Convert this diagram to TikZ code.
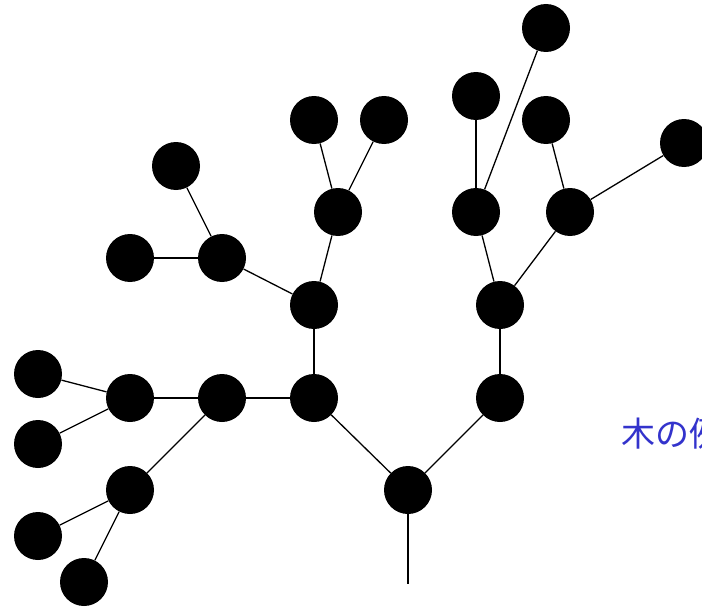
\documentclass[tikz,border=0pt]{standalone}
\usepackage{fontspec}
\newfontfamily\cjk{Noto Sans CJK JP}
\begin{document}
\begin{tikzpicture}[x=1pt,y=-1pt,
  dot/.style={circle,fill=black,minimum size=48pt,inner sep=0pt},
  edge/.style={line width=1.3pt}]
\useasboundingbox (0,0) rectangle (702,610);
\node[dot] (r) at (408,490) {};
\coordinate (base) at (408,584);
\node[dot] (a) at (314,398) {};
\node[dot] (b) at (314,305) {};
\node[dot] (c) at (338,212) {};
\node[dot] (c1) at (314,120) {};
\node[dot] (c2) at (384,120) {};
\node[dot] (d) at (222,258) {};
\node[dot] (d1) at (130,258) {};
\node[dot] (d2) at (176,166) {};
\node[dot] (e) at (222,398) {};
\node[dot] (f) at (130,398) {};
\node[dot] (f1) at (38,374) {};
\node[dot] (f2) at (38,444) {};
\node[dot] (g) at (130,490) {};
\node[dot] (g1) at (38,536) {};
\node[dot] (g2) at (84,582) {};
\node[dot] (h) at (500,398) {};
\node[dot] (i) at (500,305) {};
\node[dot] (j) at (476,212) {};
\node[dot] (j1) at (476,96) {};
\node[dot] (j2) at (546,28) {};
\node[dot] (k) at (570,212) {};
\node[dot] (k1) at (546,120) {};
\node[dot] (k2) at (684,143) {};
\draw[edge] (r) -- (base);
\foreach \u/\v in {r/a,a/b,b/c,c/c1,c/c2,b/d,d/d1,d/d2,a/e,e/f,f/f1,f/f2,e/g,g/g1,g/g2,r/h,h/i,i/j,j/j1,j/j2,i/k,k/k1,k/k2}
  \draw[edge] (\u) -- (\v);
\node[anchor=west,inner sep=0pt,text=blue!75!black!80!white] (t) at (621,434) {\cjk\fontsize{34pt}{34pt}\selectfont 木の例};
\end{tikzpicture}
\end{document}
